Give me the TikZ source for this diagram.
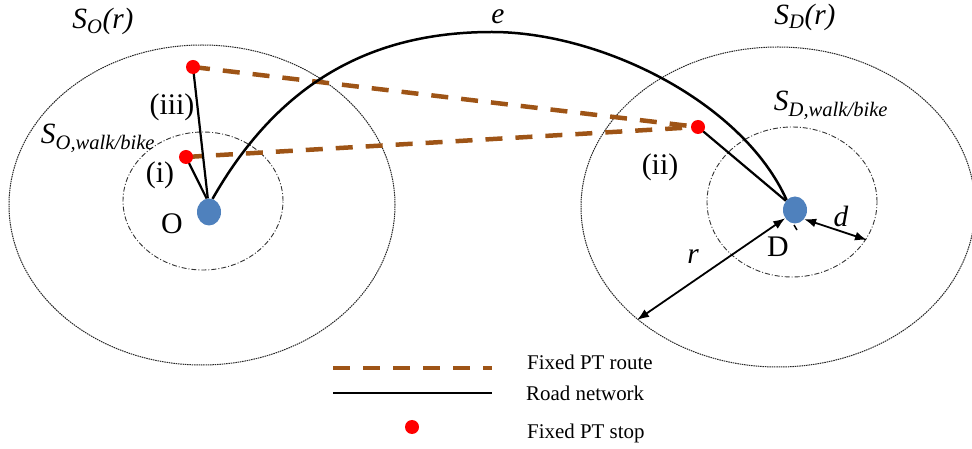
\documentclass[tikz,border=0pt]{standalone}
\usepackage{fontspec}
\setmainfont{Liberation Serif}
\usetikzlibrary{arrows.meta,shapes.geometric,backgrounds}
\definecolor{ptbrown}{RGB}{158,84,22}
\definecolor{dotblue}{RGB}{79,129,189}
\definecolor{stopred}{RGB}{255,0,0}
\begin{document}
\begin{tikzpicture}[x=1bp,y=-1bp,
  lbl/.style={inner sep=0pt, font=\fontsize{30}{32}\selectfont},
  ilbl/.style={inner sep=0pt, font=\fontsize{29.5}{31}\selectfont\itshape},
  leg/.style={inner sep=0pt, anchor=west, font=\fontsize{21}{24}\selectfont},
  bluedot/.style={ellipse, fill=dotblue, minimum width=24bp, minimum height=27bp, inner sep=0pt},
  ptstop/.style={circle, fill=stopred, minimum size=14bp, inner sep=0pt},
  road/.style={line width=2.5bp, black},
  access/.style={line width=2.2bp, black},
  ptroute/.style={line width=4.5bp, ptbrown, dash pattern=on 17bp off 13bp},
  outerzone/.style={line width=1bp, black!85, dash pattern=on 1.5bp off 0.8bp},
  innerzone/.style={line width=0.9bp, black!80, dash pattern=on 5bp off 2bp on 1bp off 2bp},
  dimarrow/.style={line width=1.8bp, {Latex[length=12bp,width=9bp]}-{Latex[length=12bp,width=9bp]}}
]
\useasboundingbox (0,0) rectangle (972,449);

% dots
\node[bluedot] (O) at (209,212) {};
\node[bluedot] (D) at (795,210) {};
\node[ptstop] (s3) at (193,67) {};
\node[ptstop] (s1) at (186,157) {};
\node[ptstop] (s2) at (698,127) {};

% labels
\node[ilbl] (lSOr) at (103,21) {S\textsubscript{O}(r)};
\node[ilbl] (lSDr) at (805,17) {S\textsubscript{D}(r)};
\node[ilbl] (lSOwb) at (98,138) {S\textsubscript{O,walk/bike}};
\node[ilbl] (lSDwb) at (831,105) {S\textsubscript{D,walk/bike}};
\node[ilbl] (le) at (498,17) {e};
\node[lbl] (liii) at (172,107) {(iii)};
\node[lbl] (li) at (160,175) {(i)};
\node[lbl] (lii) at (660,167) {(ii)};
\node[lbl] (lO) at (172,224) {O};
\node[lbl] (lD) at (778,247) {D};
\node[ilbl] (lr) at (693,257) {r};
\node[ilbl] (ld) at (841,216) {d};

% legend
\coordinate (l1a) at (333,368);
\coordinate (l1b) at (492,368);
\coordinate (l2a) at (333,393);
\coordinate (l2b) at (492,393);
\node[ptstop] (l3) at (412,427) {};
\node[leg] (t1) at (527,362) {Fixed PT route};
\node[leg] (t2) at (526,393) {Road network};
\node[leg] (t3) at (527,433) {Fixed PT stop};

\coordinate (epeak) at (492,32);
\coordinate (rtip) at (637,320);
\coordinate (dtip) at (867,240);
\coordinate (tk1) at (794,225);
\coordinate (tk2) at (797,230);

\begin{scope}[on background layer]
  \draw[outerzone] (202,205) ellipse [x radius=193bp, y radius=160bp];
  \draw[outerzone] (778,207) ellipse [x radius=197bp, y radius=160bp];
  \draw[innerzone] (203,201) ellipse [x radius=80bp, y radius=69bp];
  \draw[innerzone] (792,202) ellipse [x radius=85bp, y radius=75bp];

  \draw[ptroute] (s3.center) -- (s2.center);
  \draw[ptroute] (s1.center) -- (s2.center);

  \draw[access] (s3.center) -- (O.95);
  \draw[access] (s1.center) -- (O.100);
  \draw[access] (s2.center) -- (D.135);

  \draw[road] (O.75) .. controls (283,75) and (380,32) .. (epeak)
              .. controls (600,32) and (742,101) .. (D.130);

  \draw[dimarrow] (rtip) -- (D.220);
  \draw[dimarrow] (D.315) -- (dtip);
  \draw[line width=1.5bp] (tk1) -- (tk2);

  \draw[ptroute] (l1a) -- (l1b);
  \draw[road] (l2a) -- (l2b);
\end{scope}
\end{tikzpicture}
\end{document}
